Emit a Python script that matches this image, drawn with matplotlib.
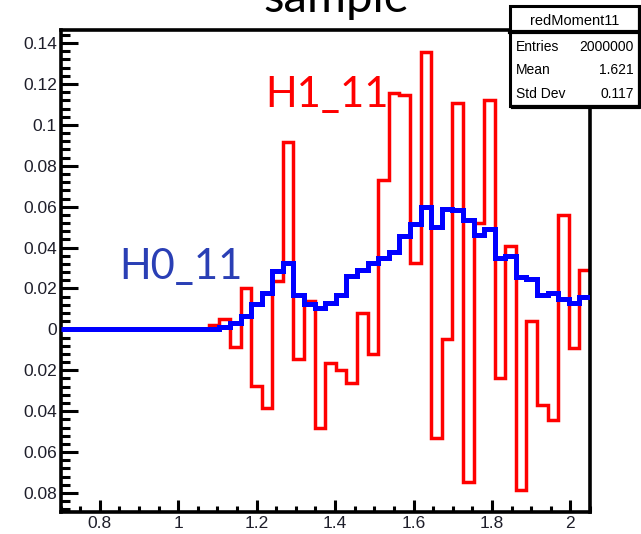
import numpy as np
import matplotlib
matplotlib.use("Agg")
import matplotlib.pyplot as plt
from matplotlib.patches import Rectangle
from matplotlib.ticker import FixedLocator, FixedFormatter, MultipleLocator

# Histogram: 50 bins between 0.7 and 2.05
n_bins = 50
x_lo, x_hi = 0.7, 2.05

# H0_11 (blue), bins 0..49
h0_values = [0.0] * 15 + [
    0.0013, 0.0033, 0.0065, 0.0125, 0.018, 0.0285, 0.0325, 0.017, 0.0125, 0.0104,
    0.0127, 0.0166, 0.026, 0.029, 0.0325, 0.035, 0.038, 0.0455, 0.0517, 0.0597,
    0.050, 0.059, 0.0582, 0.0537, 0.0463, 0.0493, 0.035, 0.0358, 0.0257, 0.0247,
    0.0169, 0.018, 0.0151, 0.013, 0.0158,
]

# H1_11 (red), bins 0..49
h1_values = [0.0] * 14 + [
    0.002, 0.0049, -0.0086, 0.0203, -0.0276, -0.0382, 0.0236, 0.0914, -0.0146, 0.0141,
    -0.048, -0.0166, -0.0198, -0.0263, 0.0078, -0.0122, 0.0732, 0.1158, 0.1146, 0.0325,
    0.1358, -0.0532, -0.0049, 0.1106, -0.0745, 0.052, 0.1122, -0.0239, 0.0407, -0.0784,
    0.0041, -0.0369, -0.0442, 0.0561, -0.0089, 0.0289,
]

x_ticks = [0.8, 1.0, 1.2, 1.4, 1.6, 1.8, 2.0]
x_labels = ["0.8", "1", "1.2", "1.4", "1.6", "1.8", "2"]
y_ticks = [0.14, 0.12, 0.1, 0.08, 0.06, 0.04, 0.02, 0, -0.02, -0.04, -0.06, -0.08]
y_labels = ["0.14", "0.12", "0.1", "0.08", "0.06", "0.04", "0.02", "0",
            "0.02", "0.04", "0.06", "0.08"]

stats_title = "redMoment11"
stats_rows = [("Entries", "2000000"), ("Mean", "1.621"), ("Std Dev", "0.117")]

W, H = 641, 534
sans = ["Liberation Sans", "DejaVu Sans"]
label_color = "#1e1e2a"


def fx(px):
    return px / W


def fy(py):
    return 1 - py / H


fig = plt.figure(figsize=(W / 100, H / 100), dpi=100)
ax = fig.add_axes([fx(60.5), fy(512), fx(590 - 60.5), (512 - 30) / H])

edges = np.linspace(x_lo, x_hi, n_bins + 1)
ax.stairs(h1_values, edges, baseline=None, color="#ff0000", lw=2.5, zorder=2)
ax.stairs(h0_values, edges, baseline=None, color="#0000ff", lw=3.6, zorder=3)

ax.set_xlim(x_lo, x_hi)
ax.set_ylim(-0.0893, 0.1464)

for side in ["left", "right", "top", "bottom"]:
    ax.spines[side].set_linewidth(2.6)
    ax.spines[side].set_color("black")

ax.xaxis.set_major_locator(FixedLocator(x_ticks))
ax.xaxis.set_major_formatter(FixedFormatter(x_labels))
ax.xaxis.set_minor_locator(MultipleLocator(0.05))
ax.yaxis.set_major_locator(FixedLocator(y_ticks))
ax.yaxis.set_major_formatter(FixedFormatter(y_labels))
ax.yaxis.set_minor_locator(MultipleLocator(0.004))

ax.tick_params(axis="y", which="major", direction="in", length=12, width=2.2, pad=2.5)
ax.tick_params(axis="y", which="minor", direction="in", length=6.5, width=2.2)
ax.tick_params(axis="x", which="major", direction="in", length=8.6, width=2.2, pad=3)
ax.tick_params(axis="x", which="minor", direction="in", length=4.3, width=2.2)
for lab in ax.get_xticklabels() + ax.get_yticklabels():
    lab.set_family(sans)
    lab.set_fontsize(12.5)
    lab.set_color(label_color)

# histogram names
ax.text(1.2214, 0.1088, "H1_11", color="#ff0000", fontsize=30, family="Lato",
        va="baseline", ha="left", zorder=4)
ax.text(0.849, 0.0246, "H0_11", color="#2a3fb5", fontsize=30, family="Lato",
        va="baseline", ha="left", zorder=4)

# title, mostly cut off at the top
fig.text(fx(336), fy(12), "sample", fontsize=34, family="Lato",
         ha="center", va="baseline", color="black")

# stats box
box_l, box_r, box_t, box_b, box_sep = 510, 639, 6, 106, 32
fig.patches.append(Rectangle((fx(box_l), fy(box_b)), fx(box_r - box_l), (box_b - box_t) / H,
                             transform=fig.transFigure, facecolor="white",
                             edgecolor="black", lw=2.2, zorder=5))
fig.lines.append(plt.Line2D([fx(box_l), fx(box_r)], [fy(box_sep), fy(box_sep)],
                            transform=fig.transFigure, color="black", lw=3, zorder=6))
# shadow on the right and bottom
fig.lines.append(plt.Line2D([fx(box_l + 3), fx(box_r + 1), fx(box_r + 1)],
                            [fy(box_b + 1), fy(box_b + 1), fy(box_t + 3)],
                            transform=fig.transFigure, color="black", lw=3, zorder=6))

fig.text(fx((box_l + box_r) / 2), fy(21), stats_title, fontsize=10.5, family=sans,
         ha="center", va="center", color="black", zorder=7)
for i, (name, val) in enumerate(stats_rows):
    y = fy(47 + i * 23.5)
    fig.text(fx(516), y, name, fontsize=10, family=sans, ha="left",
             va="center", color="black", zorder=7)
    fig.text(fx(634), y, val, fontsize=10, family=sans, ha="right",
             va="center", color="black", zorder=7)

fig.savefig("out.png", dpi=100)
